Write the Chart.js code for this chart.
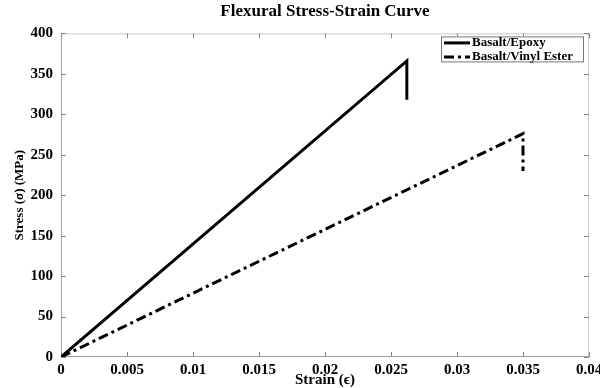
<!DOCTYPE html>
<html>
<head>
<meta charset="utf-8">
<script src="https://cdn.jsdelivr.net/npm/chart.js@4/dist/chart.umd.min.js"></script>
<style>
  html, body { margin: 0; padding: 0; background: #fff; }
  #wrap { width: 600px; height: 388px; }
</style>
</head>
<body>
<div id="wrap"><canvas id="myChart" width="600" height="388"></canvas></div>
<script>
// data
const seriesNames = ['Basalt/Epoxy', 'Basalt/Vinyl Ester'];
const epoxyStrain = [0, 0.0262, 0.0262];
const epoxyStress = [0, 366, 318];
const vinylStrain = [0, 0.035, 0.035];
const vinylStress = [0, 276, 230];
const xTickLabels = ['0', '0.005', '0.01', '0.015', '0.02', '0.025', '0.03', '0.035', '0.04'];
const yTickLabels = ['0', '50', '100', '150', '200', '250', '300', '350', '400'];

const serif = "'Liberation Serif', 'DejaVu Serif', serif";
Chart.defaults.color = '#000';
Chart.defaults.font.family = serif;

function toPoints(xs, ys) {
    return xs.map(function (x, i) { return { x: x, y: ys[i] }; });
}

// box round the plot with inward ticks, MATLAB style
const boxPlugin = {
    id: 'box',
    beforeDatasetsDraw(chart) {
        const ctx = chart.ctx;
        const a = chart.chartArea;
        const xs = chart.scales.x, ys = chart.scales.y;
        ctx.save();
        ctx.strokeStyle = '#c8c8c8';
        ctx.lineWidth = 1;
        ctx.strokeRect(a.left + 0.5, a.top + 0.5, a.right - a.left - 1, a.bottom - a.top - 1);
        ctx.strokeStyle = '#a0a0a0';
        ctx.beginPath();
        ctx.moveTo(a.left + 0.5, a.top);
        ctx.lineTo(a.left + 0.5, a.bottom - 0.5);
        ctx.lineTo(a.right, a.bottom - 0.5);
        ctx.stroke();
        ctx.strokeStyle = '#888';
        ctx.beginPath();
        xs.ticks.forEach(function (t) {
            const px = Math.round(xs.getPixelForValue(t.value)) + 0.5;
            ctx.moveTo(px, a.bottom); ctx.lineTo(px, a.bottom - 5);
            ctx.moveTo(px, a.top); ctx.lineTo(px, a.top + 5);
        });
        ys.ticks.forEach(function (t) {
            const py = Math.round(ys.getPixelForValue(t.value)) + 0.5;
            ctx.moveTo(a.left, py); ctx.lineTo(a.left + 5, py);
            ctx.moveTo(a.right, py); ctx.lineTo(a.right - 5, py);
        });
        ctx.stroke();
        ctx.restore();
    },
    afterDraw(chart) {
        const ctx = chart.ctx;
        const a = chart.chartArea;
        const w = 143, h = 26;
        const x0 = a.right - 5 - w, y0 = a.top + 3;
        ctx.save();
        ctx.fillStyle = '#fff';
        ctx.fillRect(x0, y0, w, h);
        ctx.strokeStyle = '#777';
        ctx.lineWidth = 1;
        ctx.strokeRect(x0 + 0.5, y0 + 0.5, w - 1, h - 1);
        ctx.font = 'bold 13px ' + serif;
        ctx.textBaseline = 'middle';
        ctx.fillStyle = '#000';
        chart.data.datasets.forEach(function (ds, i) {
            const yy = y0 + 6.5 + i * 14;
            ctx.strokeStyle = '#000';
            ctx.lineWidth = 3;
            ctx.setLineDash(ds.borderDash || []);
            ctx.beginPath();
            ctx.moveTo(x0 + 3, yy);
            ctx.lineTo(x0 + 29, yy);
            ctx.stroke();
            ctx.setLineDash([]);
            ctx.fillText(ds.label, x0 + 31, yy);
        });
        ctx.restore();
    }
};

const ctx = document.getElementById('myChart');

new Chart(ctx, {
    type: 'line',
    data: {
        datasets: [{
            label: seriesNames[0],
            data: toPoints(epoxyStrain, epoxyStress),
            borderColor: '#000',
            borderWidth: 3,
            pointRadius: 0,
            tension: 0,
            fill: false
        }, {
            label: seriesNames[1],
            data: toPoints(vinylStrain, vinylStress),
            borderColor: '#000',
            borderWidth: 3,
            borderDash: [10, 4, 3, 4],
            pointRadius: 0,
            tension: 0,
            fill: false
        }]
    },
    options: {
        responsive: false,
        animation: false,
        layout: { padding: { left: 0, right: 11, top: 0, bottom: 0 } },
        plugins: {
            legend: { display: false },
            tooltip: { enabled: false },
            title: {
                display: true,
                fullSize: false,
                text: 'Flexural Stress-Strain Curve',
                font: { size: 17, weight: 'bold', family: serif },
                padding: { top: 1, bottom: 12 },
                color: '#000'
            }
        },
        scales: {
            x: {
                type: 'linear',
                min: 0,
                max: 0.04,
                grid: { display: false, drawTicks: false },
                border: { display: false },
                ticks: {
                    stepSize: 0.005,
                    padding: 4,
                    maxRotation: 0,
                    autoSkip: false,
                    font: { size: 15, weight: 'bold' },
                    callback: function (v, i) { return xTickLabels[i]; }
                },
                title: {
                    display: true,
                    text: 'Strain (ϵ)',
                    font: { size: 15, weight: 'bold', lineHeight: 1 },
                    padding: 0
                },
                afterFit: function (s) { s.height = 31; s.paddingLeft = 0; s.paddingRight = 0; }
            },
            y: {
                min: 0,
                max: 400,
                grid: { display: false, drawTicks: false },
                border: { display: false },
                ticks: {
                    stepSize: 50,
                    padding: 8,
                    font: { size: 15, weight: 'bold' },
                    callback: function (v, i) { return yTickLabels[i]; }
                },
                title: {
                    display: true,
                    text: 'Stress (σ) (MPa)',
                    font: { size: 13, weight: 'bold' },
                    padding: { top: 12, bottom: 0 }
                },
                afterFit: function (s) { s.width = 61; }
            }
        }
    },
    plugins: [boxPlugin]
});
</script>
</body>
</html>
